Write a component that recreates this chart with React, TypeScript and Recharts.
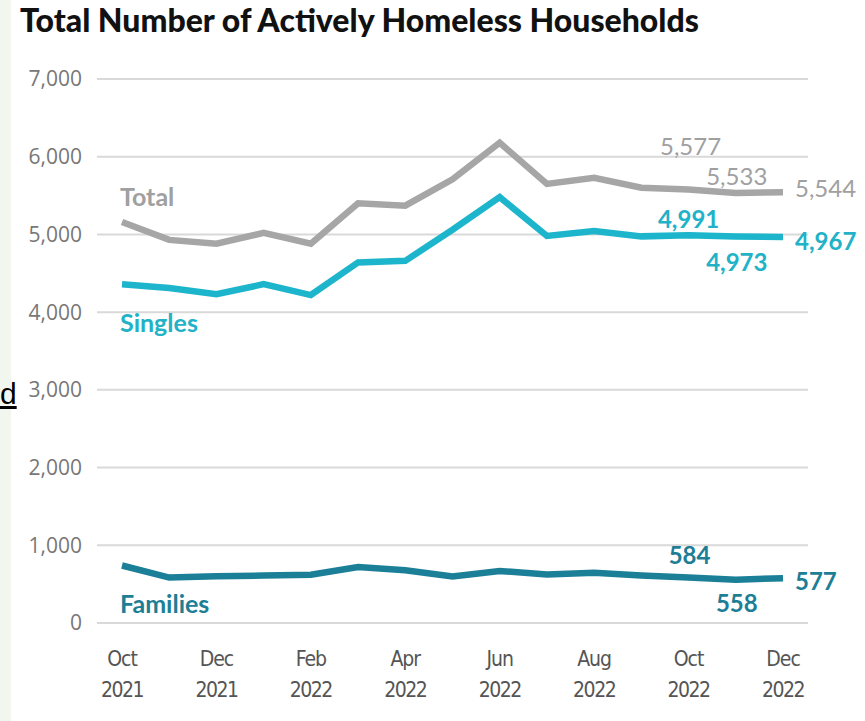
import React from 'react';
import { LineChart, Line, XAxis, YAxis, CartesianGrid, LabelList } from 'recharts';

const months = [
  'Oct 2021', 'Nov 2021', 'Dec 2021', 'Jan 2022', 'Feb 2022', 'Mar 2022', 'Apr 2022', 'May 2022',
  'Jun 2022', 'Jul 2022', 'Aug 2022', 'Sep 2022', 'Oct 2022', 'Nov 2022', 'Dec 2022',
];
const total = [5160, 4930, 4880, 5020, 4880, 5400, 5370, 5710, 6180, 5650, 5730, 5600, 5577, 5533, 5544];
const singles = [4360, 4310, 4230, 4360, 4220, 4640, 4660, 5060, 5480, 4980, 5045, 4975, 4991, 4973, 4967];
const families = [740, 585, 600, 610, 620, 720, 680, 600, 670, 625, 645, 610, 584, 558, 577];
const yTicks = [0, 1000, 2000, 3000, 4000, 5000, 6000, 7000];
const seriesNames = ['Total', 'Singles', 'Families'];

const data = months.map((m, i) => ({ month: m, total: total[i], singles: singles[i], families: families[i] }));

const C_TOTAL = '#a6a6a6';
const C_SINGLES = '#1db5cb';
const C_FAMILIES = '#1b7f97';

type Ann = { dx: number; dy: number; anchor: 'start' | 'middle' | 'end'; name?: boolean; weight: number; size: number };

const annTotal: Record<number, Ann> = {
  0: { dx: -2, dy: -26, anchor: 'start', name: true, weight: 700, size: 25 },
  12: { dx: 2, dy: -44, anchor: 'middle', weight: 400, size: 24 },
  13: { dx: 1, dy: -18, anchor: 'middle', weight: 400, size: 24 },
  14: { dx: 12, dy: -5, anchor: 'start', weight: 400, size: 24 },
};
const annSingles: Record<number, Ann> = {
  0: { dx: -2, dy: 38, anchor: 'start', name: true, weight: 700, size: 25 },
  12: { dx: 0, dy: -17, anchor: 'middle', weight: 700, size: 24 },
  13: { dx: 1, dy: 25, anchor: 'middle', weight: 700, size: 24 },
  14: { dx: 12, dy: 4, anchor: 'start', weight: 700, size: 24 },
};
const annFamilies: Record<number, Ann> = {
  0: { dx: -2, dy: 38, anchor: 'start', name: true, weight: 700, size: 25 },
  12: { dx: 1, dy: -23, anchor: 'middle', weight: 700, size: 24 },
  13: { dx: 1, dy: 23, anchor: 'middle', weight: 700, size: 24 },
  14: { dx: 12, dy: 2, anchor: 'start', weight: 700, size: 24 },
};

const makeLabel = (anns: Record<number, Ann>, color: string, name: string) => (props: any) => {
  const { x, y, index, value } = props;
  const a = anns[index];
  if (!a) return null;
  const text = a.name ? name : Number(value).toLocaleString('en-US');
  return (
    <text
      x={x + a.dx}
      y={y + a.dy}
      textAnchor={a.anchor}
      dominantBaseline="central"
      fill={color}
      fontFamily="Lato, 'Open Sans', sans-serif"
      fontWeight={a.weight}
      fontSize={a.size}
    >
      {text}
    </text>
  );
};

const XTick = (props: any) => {
  const { x, y, payload } = props;
  const [m, yr] = String(payload.value).split(' ');
  return (
    <g>
      <text x={x} y={y + 28} textAnchor="middle" dominantBaseline="central" fill="#555" fontSize={21} letterSpacing={-1}
        fontFamily="'DejaVu Sans Condensed', sans-serif">{m}</text>
      <text x={x} y={y + 59} textAnchor="middle" dominantBaseline="central" fill="#555" fontSize={21} letterSpacing={-1.5}
        fontFamily="'DejaVu Sans Condensed', sans-serif">{yr}</text>
    </g>
  );
};

export default function App() {
  return (
    <div style={{ position: 'absolute', left: 0, top: 0, width: 865, height: 721, background: '#fff', overflow: 'hidden' }}>
      <div style={{ position: 'absolute', left: 0, top: 0, width: 11, height: 721, background: '#f1f6ee' }} />
      <div style={{ position: 'absolute', left: 0, top: 377, fontSize: 30, fontFamily: "'Liberation Sans', Arial, sans-serif", color: '#000', textDecoration: 'underline', lineHeight: '34px' }}>d</div>
      <div style={{ position: 'absolute', left: 20, top: 0, fontSize: 32, fontWeight: 900, fontFamily: "Lato, 'Open Sans', sans-serif", color: '#111', letterSpacing: 0, whiteSpace: 'nowrap', lineHeight: '40px' }}>
        Total Number of Actively Homeless Households
      </div>
      <div style={{ position: 'absolute', left: 0, top: 0 }}>
        <LineChart width={865} height={721} data={data} margin={{ top: 79, right: 57, bottom: 0, left: 0 }}>
          <CartesianGrid vertical={false} stroke="#d9d9d9" strokeWidth={2} />
          <XAxis
            dataKey="month"
            interval={1}
            tickLine={false}
            axisLine={false}
            padding={{ left: 25, right: 25 }}
            tick={<XTick />}
            height={98}
          />
          <YAxis
            domain={[0, 7000]}
            ticks={yTicks}
            width={97}
            tickLine={false}
            axisLine={false}
            tickMargin={9}
            tickFormatter={(v: number) => v.toLocaleString('en-US')}
            tick={{ fill: '#777', fontSize: 21, fontFamily: "'Open Sans', sans-serif" }}
          />
          <Line type="linear" dataKey="total" name={seriesNames[0]} stroke={C_TOTAL} strokeWidth={6.5} dot={false} isAnimationActive={false}>
            <LabelList dataKey="total" content={makeLabel(annTotal, '#a0a0a0', seriesNames[0])} />
          </Line>
          <Line type="linear" dataKey="singles" name={seriesNames[1]} stroke={C_SINGLES} strokeWidth={6.5} dot={false} isAnimationActive={false}>
            <LabelList dataKey="singles" content={makeLabel(annSingles, '#22b2c8', seriesNames[1])} />
          </Line>
          <Line type="linear" dataKey="families" name={seriesNames[2]} stroke={C_FAMILIES} strokeWidth={6.5} dot={false} isAnimationActive={false}>
            <LabelList dataKey="families" content={makeLabel(annFamilies, '#1d7e96', seriesNames[2])} />
          </Line>
        </LineChart>
      </div>
    </div>
  );
}
